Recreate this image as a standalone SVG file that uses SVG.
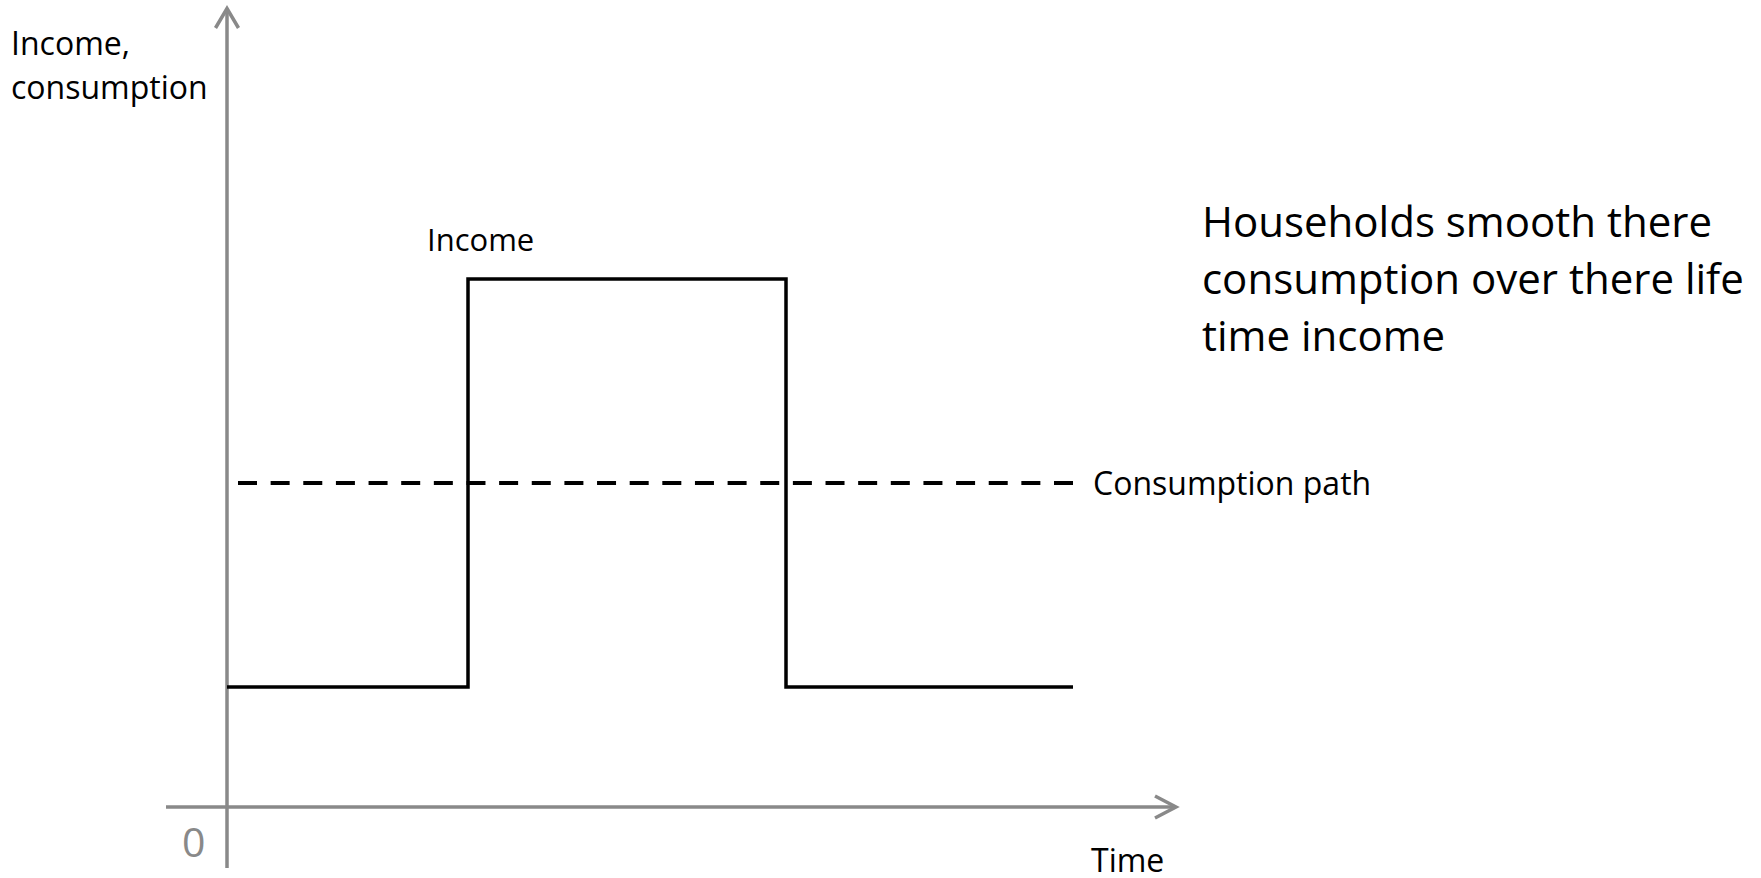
<svg xmlns="http://www.w3.org/2000/svg" width="1761" height="878" viewBox="0 0 1761 878">
  <style>
    .axis { stroke: #898989; stroke-width: 3.5; fill: none; }
    .curve { stroke: #000; stroke-width: 3.5; fill: none; stroke-linejoin: miter; }
    .dash { stroke: #000; stroke-width: 4; fill: none; stroke-dasharray: 19 13.64; }
    .lbl { font-family: "Open Sans", "Liberation Sans", sans-serif; font-size: 31px; fill: #000; }
    .lbl2 { font-family: "Open Sans", "Liberation Sans", sans-serif; font-size: 32px; fill: #000; }
    .big { font-family: "Open Sans", "Liberation Sans", sans-serif; font-size: 42px; fill: #000; }
    .zero { font-family: "Open Sans", "Liberation Sans", sans-serif; font-size: 41px; fill: #898989; }
  </style>
  <rect width="1761" height="878" fill="#ffffff"/>
  <g id="axes">
    <line class="axis" x1="227" y1="868" x2="227" y2="9"/>
    <polyline class="axis" points="215.5,28 227,8.5 238.5,28"/>
    <line class="axis" x1="166" y1="807" x2="1175" y2="807"/>
    <polyline class="axis" points="1155,796 1176,807 1155,818"/>
  </g>
  <g id="connectors">
    <polyline id="income-path" class="curve" points="227,687 468,687 468,279 786,279 786,687 1073,687"/>
    <line id="consumption-path" class="dash" x1="238" y1="483" x2="1073" y2="483"/>
  </g>
  <g id="label-y-axis">
    <text class="lbl2" x="11" y="55">Income,</text>
    <text class="lbl2" x="11" y="99">consumption</text>
  </g>
  <g id="label-income">
    <text class="lbl" x="427" y="251">Income</text>
  </g>
  <g id="label-consumption-path">
    <text class="lbl2" x="1093" y="495">Consumption path</text>
  </g>
  <g id="label-zero">
    <text class="zero" x="182" y="857">0</text>
  </g>
  <g id="label-time">
    <text class="lbl2" x="1091" y="872">Time</text>
  </g>
  <g id="note">
    <text class="big" x="1202" y="237">Households smooth there</text>
    <text class="big" x="1202" y="294">consumption over there life</text>
    <text class="big" x="1202" y="351">time income</text>
  </g>
</svg>
